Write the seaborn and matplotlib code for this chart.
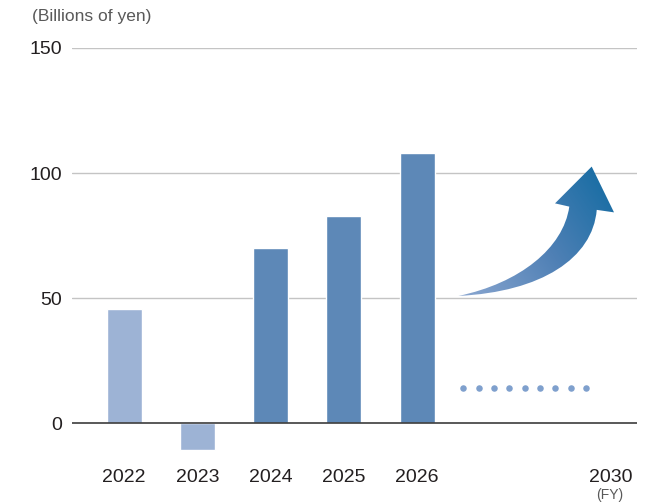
import numpy as np
import pandas as pd
import matplotlib
matplotlib.use("Agg")
import matplotlib.pyplot as plt
import seaborn as sns
from matplotlib.path import Path
from matplotlib.patches import PathPatch
from matplotlib.colors import LinearSegmentedColormap

# ---- data ----
years = ["2022", "2023", "2024", "2025", "2026"]
values = [45.5, -10.5, 70, 83, 108]
bar_colors = ["#9db3d5", "#9db3d5", "#5d88b7", "#5d88b7", "#5d88b7"]
target_label = "2030"
target_pos = 6.64
dots_value = 14
y_ticks = [0, 50, 100, 150]

sns.set_theme(style="white")
plt.rcParams["font.family"] = ["Liberation Sans", "DejaVu Sans"]

fig = plt.figure(figsize=(6.58, 5.03), dpi=100)
ax = fig.add_axes([72 / 658, 1 - 460.8 / 503, 565 / 658, 412.8 / 503])

df = pd.DataFrame({"year": years, "value": values})
sns.barplot(data=df, x="year", y="value", hue="year", palette=bar_colors,
            order=years, width=0.478, legend=False, saturation=1, ax=ax)

# dotted placeholder line
dot_x = np.linspace(4.63, 6.31, 9)
ax.scatter(dot_x, [dots_value] * len(dot_x), s=22, color="#7fa0cd", zorder=3, linewidths=0)

# curved gradient arrow
verts = [
    (4.565, 50.9),
    (5.7, 52.5), (6.4, 66.0), (6.455, 85.3),
    (6.691, 84.3),
    (6.386, 102.6),
    (5.885, 87.9),
    (6.08, 86.6),
    (6.0, 70.0), (5.4, 56.0), (4.565, 50.9),
    (4.565, 50.9),
]
codes = [Path.MOVETO,
         Path.CURVE4, Path.CURVE4, Path.CURVE4,
         Path.LINETO, Path.LINETO, Path.LINETO, Path.LINETO,
         Path.CURVE4, Path.CURVE4, Path.CURVE4,
         Path.CLOSEPOLY]
patch = PathPatch(Path(verts, codes), facecolor="none", edgecolor="none")
ax.add_patch(patch)
cmap = LinearSegmentedColormap.from_list("arr", ["#8ea9d2", "#4f80b5", "#0c69a0"])
gx, gy = np.meshgrid(np.linspace(0, 1, 200), np.linspace(0, 1, 200))
grad = 0.65 * gx + 0.35 * gy
im = ax.imshow(grad, extent=[4.5, 6.75, 50, 104], origin="lower", cmap=cmap,
               aspect="auto", zorder=4, interpolation="bilinear")
im.set_clip_path(patch)

# axes styling
ax.set_xlim(-0.713, 7.005)
ax.set_ylim(-15, 150)
ax.set_yticks(y_ticks)
ax.set_yticklabels([str(t) for t in y_ticks])
ax.set_xticks(list(range(len(years))) + [target_pos])
ax.set_xticklabels(years + [target_label])
for s in ax.spines.values():
    s.set_visible(False)
ax.grid(False)
for t in y_ticks[1:]:
    ax.axhline(t, color="#c4c4c4", lw=1.0, zorder=0)
ax.axhline(0, color="#3c3c3c", lw=1.2, zorder=5)
ax.tick_params(axis="both", length=0, labelsize=14, colors="#231f20")
ax.tick_params(axis="y", pad=7)
ax.tick_params(axis="x", pad=6)
ax.set_xlabel("")
ax.set_ylabel("")

fig.text(32 / 658, 1 - 17 / 503, "(Billions of yen)", fontsize=12.5,
         color="#595959", ha="left", va="center")
fig.text(610 / 658, 1 - 495 / 503, "(FY)", fontsize=10, color="#595959",
         ha="center", va="center")

fig.savefig("out.png", dpi=100)
